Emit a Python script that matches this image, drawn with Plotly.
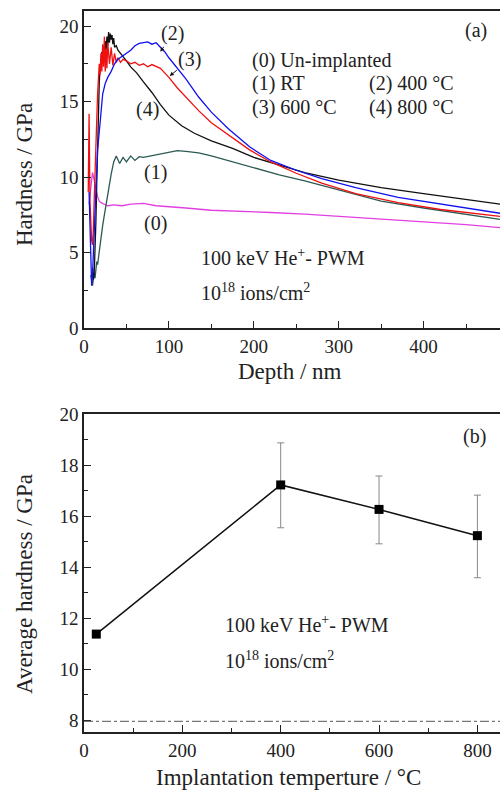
import plotly.graph_objects as go

# ---------------- Panel (a) data: hardness vs depth ----------------
d0 = [6, 8, 10, 12, 14, 16, 18, 20, 24, 28, 35, 45, 55, 70, 85, 100, 120, 150, 180, 220, 260, 300, 350, 400, 450, 490]
h0 = [8.2, 9.5, 10.3, 9.8, 9.1, 8.7, 8.4, 8.3, 8.2, 8.1, 8.15, 8.1, 8.2, 8.25, 8.1, 8.05, 7.95, 7.8, 7.75, 7.65, 7.55, 7.4, 7.25, 7.05, 6.85, 6.65]

d1 = [8, 9, 10, 11, 12, 13, 14, 15, 16, 18, 20, 22, 24, 26, 28, 30, 32, 35, 38, 42, 46, 50, 55, 60, 65, 70, 80, 90, 100, 110, 120, 135, 150, 175, 200, 230, 260, 300, 350, 400, 450, 490]
h1 = [3.5, 3.0, 2.8, 3.2, 3.6, 3.3, 4.0, 4.4, 4.2, 5.2, 6.0, 6.8, 7.5, 8.2, 8.8, 9.5, 10.2, 11.0, 11.4, 10.9, 11.3, 11.0, 11.4, 11.1, 11.35, 11.3, 11.4, 11.5, 11.6, 11.75, 11.7, 11.6, 11.4, 11.0, 10.6, 10.15, 9.75, 9.15, 8.4, 7.95, 7.55, 7.2]

d2 = [6, 7, 8, 9, 10, 11, 12, 13, 14, 15, 16, 18, 20, 22, 25, 28, 32, 36, 40, 45, 50, 55, 60, 65, 70, 75, 80, 85, 90, 95, 100, 110, 120, 135, 150, 170, 195, 220, 250, 280, 320, 370, 420, 490]
h2 = [9.0, 6.5, 4.5, 2.8, 3.5, 5.0, 6.5, 8.0, 9.5, 10.8, 11.8, 13.0, 14.3, 15.5, 16.2, 16.6, 17.0, 17.5, 17.8, 18.0, 18.2, 18.4, 18.7, 18.85, 18.9, 18.95, 18.8, 18.9, 18.6, 18.3, 17.9, 17.2, 16.5, 15.3, 14.3, 13.2, 12.0, 11.1, 10.45, 9.9, 9.3, 8.65, 8.2, 7.6]

d3 = [5, 6, 7, 8, 9, 10, 11, 12, 13, 14, 15, 16, 17, 18, 19, 20, 21, 22, 23, 24, 25, 26, 27, 28, 30, 32, 34, 36, 38, 40, 43, 46, 50, 55, 60, 65, 70, 75, 80, 85, 90, 95, 100, 110, 120, 135, 150, 170, 195, 220, 250, 280, 320, 370, 420, 490]
h3 = [9.0, 14.2, 8.5, 7.0, 5.8, 5.5, 6.5, 8.5, 10.5, 12.5, 14.0, 15.5, 16.5, 17.5, 16.8, 18.2, 17.0, 18.8, 17.3, 19.3, 17.0, 18.5, 17.2, 18.9, 17.5, 18.6, 17.4, 18.2, 17.6, 17.9, 17.6, 17.8, 17.7, 17.5, 17.6, 17.4, 17.5, 17.3, 17.45, 17.3, 17.2, 16.9, 16.6, 15.9, 15.3, 14.4, 13.6, 12.8, 11.8, 11.0, 10.25, 9.6, 8.9, 8.3, 7.85, 7.4]

d4 = [10, 11, 12, 13, 14, 15, 16, 17, 18, 19, 20, 21, 22, 23, 24, 25, 26, 27, 28, 29, 30, 31, 32, 33, 34, 35, 36, 38, 40, 43, 46, 50, 55, 62, 70, 80, 90, 100, 115, 130, 150, 175, 200, 230, 260, 300, 350, 400, 450, 490]
h4 = [4.0, 3.2, 3.6, 5.0, 7.0, 9.5, 12.0, 14.5, 16.3, 17.2, 17.8, 18.3, 17.6, 18.6, 18.0, 19.0, 18.4, 19.3, 18.7, 19.6, 18.9, 19.5, 19.1, 19.4, 18.8, 19.2, 18.6, 18.7, 18.4, 18.2, 18.0, 17.7, 17.3, 16.9, 16.3, 15.6, 14.8, 14.1, 13.4, 12.9, 12.4, 11.9, 11.3, 10.8, 10.3, 9.8, 9.3, 8.9, 8.5, 8.2]

# ---------------- Panel (b) data: average hardness vs temperature ----------------
temps = [25, 400, 600, 800]
avg_hard = [11.37, 17.22, 16.26, 15.23]
err_plus = [0.12, 1.65, 1.31, 1.59]
err_minus = [0.12, 1.68, 1.35, 1.65]
unimplanted_avg = 7.95

FONT = "Liberation Serif"
fig = go.Figure()

curve_colors = ["#e040e0", "#2b5a52", "#1010f0", "#f01010", "#101010"]
for d, h, c in [(d0, h0, curve_colors[0]), (d1, h1, curve_colors[1]),
                (d4, h4, curve_colors[4]), (d3, h3, curve_colors[3]),
                (d2, h2, curve_colors[2])]:
    fig.add_trace(go.Scatter(x=d, y=h, mode="lines", line=dict(color=c, width=1.3),
                             xaxis="x", yaxis="y", showlegend=False))

fig.add_trace(go.Scatter(
    x=temps, y=avg_hard, mode="lines+markers",
    line=dict(color="#111", width=1.5),
    marker=dict(symbol="square", size=9, color="#000"),
    error_y=dict(type="data", symmetric=False, array=err_plus, arrayminus=err_minus,
                 color="#888", thickness=1, width=3.5),
    xaxis="x2", yaxis="y2", showlegend=False))

fig.add_shape(type="line", xref="x2 domain", yref="y2", x0=0, x1=1,
              y0=unimplanted_avg, y1=unimplanted_avg,
              line=dict(color="#555", width=1, dash="dashdot"))

axis_common = dict(showline=True, linecolor="#222", linewidth=1.5, ticks="inside",
                   tickcolor="#222", ticklen=7, tickwidth=1.3, showgrid=False,
                   zeroline=False, automargin=False,
                   tickfont=dict(family=FONT, size=19, color="#222"))

fig.update_layout(
    width=500, height=790, margin=dict(l=0, r=0, t=0, b=0),
    plot_bgcolor="white", paper_bgcolor="white",
    xaxis=dict(domain=[0.168, 1.0], anchor="y", range=[0, 490], dtick=100, tick0=0,
               mirror=True, minor=dict(dtick=50, ticklen=4, ticks="inside", tickcolor="#222"),
               **axis_common),
    yaxis=dict(domain=[0.5848, 0.9861], anchor="x", range=[0, 21], dtick=5,
               minor=dict(dtick=2.5, ticklen=4, ticks="inside", tickcolor="#222"),
               **axis_common),
    xaxis2=dict(domain=[0.168, 1.0], anchor="y2", range=[0, 846], dtick=200, tick0=0,
                mirror=True, minor=dict(dtick=100, ticklen=4, ticks="inside", tickcolor="#222"),
                **axis_common),
    yaxis2=dict(domain=[0.0734, 0.4759], anchor="x2", range=[7.53, 20], dtick=2, tick0=0,
                minor=dict(dtick=1, ticklen=4, ticks="inside", tickcolor="#222"),
                **axis_common),
)

def txt(x, y, s, xref="x", yref="y", size=20, xanchor="center", **kw):
    fig.add_annotation(x=x, y=y, xref=xref, yref=yref, text=s, showarrow=False,
                       xanchor=xanchor, yanchor="middle",
                       font=dict(family=FONT, size=size, color="#222"), **kw)

# Panel (a) annotations
txt(462, 19.7, "(a)")
txt(195, 17.7, "(0) Un-implanted", xanchor="left")
txt(195, 16.2, "(1) RT", xanchor="left")
txt(195, 14.6, "(3) 600 °C", xanchor="left")
txt(333, 16.2, "(2) 400 °C", xanchor="left")
txt(333, 14.6, "(4) 800 °C", xanchor="left")
txt(136, 4.7, "100 keV He<sup>+</sup>- PWM", xanchor="left")
txt(136, 2.4, "10<sup>18</sup> ions/cm<sup>2</sup>", xanchor="left")
txt(75, 14.5, "(4)")
txt(84, 10.3, "(1)")
txt(84, 6.9, "(0)")

for hx, hy, ax, ay, lab in [(90, 18.3, 12, -18, "(2)"), (101, 16.7, 20, -16, "(3)")]:
    fig.add_annotation(x=hx, y=hy, xref="x", yref="y", text=lab, showarrow=True,
                       ax=ax, ay=ay, arrowhead=2, arrowsize=0.8, arrowwidth=1,
                       arrowcolor="#111", standoff=0, startstandoff=0,
                       font=dict(family=FONT, size=20, color="#222"))

# Panel (b) annotations
txt(795, 19.1, "(b)", xref="x2", yref="y2")
txt(283, 11.76, "100 keV He<sup>+</sup>- PWM", xref="x2", yref="y2", xanchor="left")
txt(283, 10.35, "10<sup>18</sup> ions/cm<sup>2</sup>", xref="x2", yref="y2", xanchor="left")

# Axis titles (paper coords)
def ptxt(xp, yp, s, angle=0, size=23):
    fig.add_annotation(x=xp / 500, y=1 - yp / 790, xref="paper", yref="paper", text=s,
                       showarrow=False, textangle=angle, xanchor="center", yanchor="middle",
                       font=dict(family=FONT, size=size, color="#222"))

ptxt(25, 175, "Hardness / GPa", angle=-90)
ptxt(290, 371, "Depth / nm")
ptxt(24, 584, "Average hardness / GPa", angle=-90)
ptxt(288, 777, "Implantation temperture / °C")

fig.write_html("out.html", config={"displayModeBar": False},
               post_script="document.body.style.margin='0';document.body.style.overflow='hidden';")
